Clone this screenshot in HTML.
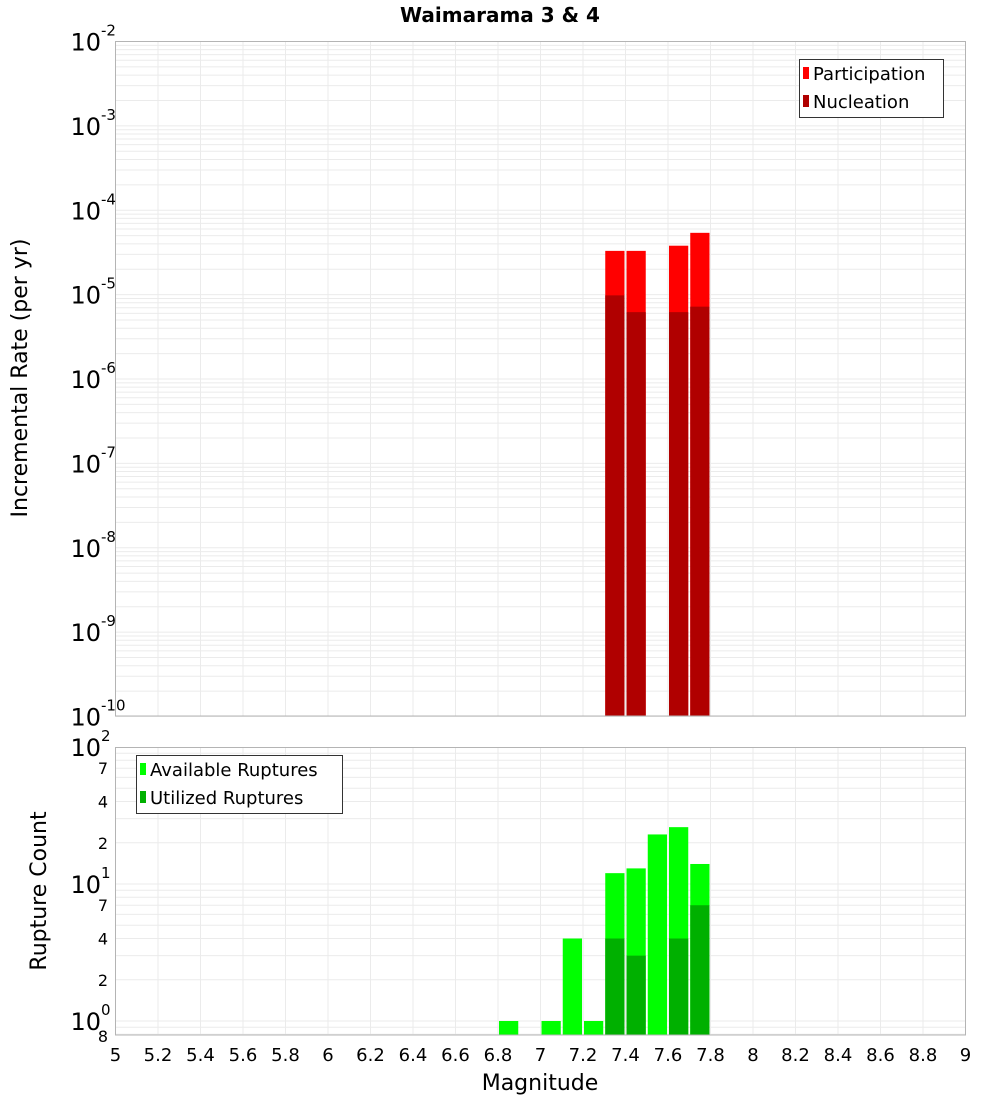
<!DOCTYPE html>
<html><head><meta charset="utf-8"><style>
html,body{margin:0;padding:0;background:#fff;}
svg{display:block;font-family:"DejaVu Sans","Liberation Sans",sans-serif;}
</style></head><body>
<svg id="chart" width="1000" height="1100" viewBox="0 0 1000 1100">
<text x="500" y="22" text-anchor="middle" font-size="20" font-weight="bold">Waimarama 3 &amp; 4</text>
<g id="topPanel"></g>
<g id="botPanel"></g>
<text transform="translate(27,378) rotate(-90)" text-anchor="middle" font-size="22">Incremental Rate (per yr)</text>
<text transform="translate(46,891) rotate(-90)" text-anchor="middle" font-size="22">Rupture Count</text>
<text x="540" y="1090" text-anchor="middle" font-size="22">Magnitude</text>
<g>
<rect x="799.5" y="59.5" width="144" height="58" fill="#fff" stroke="#333"/>
<rect x="803" y="67" width="6" height="12" fill="#ff0000"/>
<text x="813" y="80" font-size="18">Participation</text>
<rect x="803" y="95" width="6" height="12" fill="#b00000"/>
<text x="813" y="108" font-size="18">Nucleation</text>
</g>
<g>
<rect x="136.5" y="755.5" width="206" height="58" fill="#fff" stroke="#333"/>
<rect x="140" y="763" width="6" height="12" fill="#00ff00"/>
<text x="150" y="776" font-size="18">Available Ruptures</text>
<rect x="140" y="791" width="6" height="12" fill="#00b000"/>
<text x="150" y="804" font-size="18">Utilized Ruptures</text>
</g>
</svg>
<script>
const rateMags = [7.35, 7.45, 7.65, 7.75];
const participation = [3.3e-5, 3.3e-5, 3.8e-5, 5.4e-5];
const nucleation = [9.8e-6, 6.2e-6, 6.2e-6, 7.2e-6];
const countMags = [6.85, 7.05, 7.15, 7.25, 7.35, 7.45, 7.55, 7.65, 7.75];
const available = [1, 1, 4, 1, 12, 13, 23, 26, 14];
const utilized = [0, 0, 0, 0, 4, 3, 0, 4, 7];
const xTicks = [5,5.2,5.4,5.6,5.8,6,6.2,6.4,6.6,6.8,7,7.2,7.4,7.6,7.8,8,8.2,8.4,8.6,8.8,9];
const rateDecades = [-2,-3,-4,-5,-6,-7,-8,-9,-10];
const countMinorTicks = [2,4,7,20,40,70];

const NS = "http://www.w3.org/2000/svg";
const L = 115.5, R = 965.5;
const X = m => L + (m - 5) / 4 * (R - L);
const Yt = v => 41.5 + (-2 - Math.log10(v)) * 84.375;
const Yb = v => 884 - (Math.log10(v) - 1) * 137;
function mk(parent, tag, attrs) { const e = document.createElementNS(NS, tag); for (const k in attrs) e.setAttribute(k, attrs[k]); parent.appendChild(e); return e; }
const topG = document.getElementById('topPanel'), botG = document.getElementById('botPanel');
const GRID = '#ebebeb';

for (let d = -10; d < -2; d++) for (let k = 1; k < 10; k++) {
  const y = Yt(k * Math.pow(10, d));
  const l = mk(topG, 'line', {x1: L, x2: R, y1: y, y2: y, stroke: GRID, 'stroke-width': 1});
  
  
}
xTicks.forEach(t => {
  const l = mk(topG, 'line', {x1: X(t), x2: X(t), y1: 41.5, y2: 716, stroke: GRID});
  
  
  const l2 = mk(botG, 'line', {x1: X(t), x2: X(t), y1: 747.5, y2: 1035, stroke: GRID});
  
  
});
for (let d = -1; d < 2; d++) for (let k = 1; k < 10; k++) {
  const v = k * Math.pow(10, d); if (v < 0.8) continue;
  const y = Yb(v);
  const l = mk(botG, 'line', {x1: L, x2: R, y1: y, y2: y, stroke: GRID});
  
  
}
const bw = (X(5.1) - X(5)) - 2;
rateMags.forEach((m, i) => {
  const x = X(m - 0.05) + 1;
  const p = mk(topG, 'rect', {x: x, y: Yt(participation[i]), width: bw, height: 716 - Yt(participation[i]), fill: '#ff0000'});
  
  
  const n = mk(topG, 'rect', {x: x, y: Yt(nucleation[i]), width: bw, height: 716 - Yt(nucleation[i]), fill: '#b00000'});
  
  
});
countMags.forEach((m, i) => {
  const x = X(m - 0.05) + 1;
  const a = mk(botG, 'rect', {x: x, y: Yb(available[i]), width: bw, height: 1035 - Yb(available[i]), fill: '#00ff00'});
  
  
  if (utilized[i] > 0) {
    const u = mk(botG, 'rect', {x: x, y: Yb(utilized[i]), width: bw, height: 1035 - Yb(utilized[i]), fill: '#00b000'});
    
    
  }
});
const f1 = mk(topG, 'rect', {x: L, y: 41.5, width: R - L, height: 674.5, fill: 'none', stroke: '#b4b4b4'});


const f2 = mk(botG, 'rect', {x: L, y: 747.5, width: R - L, height: 287.5, fill: 'none', stroke: '#b4b4b4'});


rateDecades.forEach(d => {
  const y = Yt(Math.pow(10, d));
  const t = mk(topG, 'text', {x: 101, y: y + 9, 'text-anchor': 'end', 'font-size': 24});
  t.textContent = '10';
  
  
  const s = mk(topG, 'text', {x: 101, y: y - 6, 'font-size': 15});
  s.textContent = String(d);
  
  
});
[[100, '2'], [10, '1'], [1, '0']].forEach(([v, e]) => {
  const y = Yb(v);
  const t = mk(botG, 'text', {x: 101, y: y + 9, 'text-anchor': 'end', 'font-size': 24});
  t.textContent = '10';
  
  
  const s = mk(botG, 'text', {x: 101, y: y - 6, 'font-size': 15});
  s.textContent = e;
  
  
});
countMinorTicks.forEach(v => {
  const t = mk(botG, 'text', {x: 108, y: Yb(v) + 6, 'text-anchor': 'end', 'font-size': 16});
  t.textContent = String(v).charAt(0);
  
  
});
const e8 = mk(botG, 'text', {x: 108, y: 1042, 'text-anchor': 'end', 'font-size': 16});
e8.textContent = '8';


xTicks.forEach(t => {
  const tx = mk(botG, 'text', {x: X(t), y: 1061, 'text-anchor': 'middle', 'font-size': 18});
  tx.textContent = String(t);
  
  
});
</script>
</body></html>
